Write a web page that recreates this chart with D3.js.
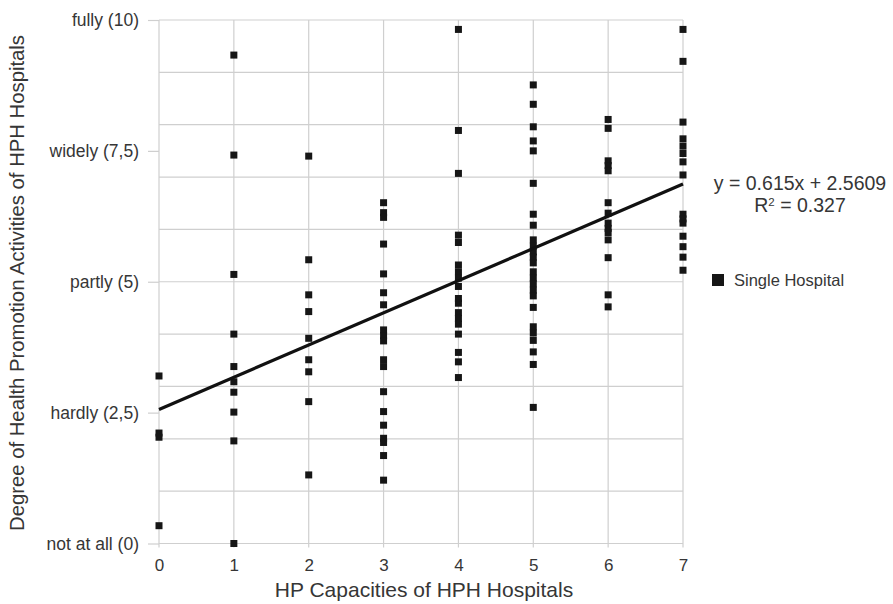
<!DOCTYPE html>
<html>
<head>
<meta charset="utf-8">
<script src="https://cdn.jsdelivr.net/npm/d3@7"></script>
<style>
  body { margin: 0; background: #fff; }
  .chart text { font-family: "Liberation Sans", Arial, sans-serif; fill: #363636; }
</style>
</head>
<body>
<div class="chart"></div>
<script>
// HP capacity (x) and degree of HP activities (y) per hospital, grouped by capacity
const capacities = [0, 1, 2, 3, 4, 5, 6, 7];
const cap0 = [3.2, 2.11, 2.03, 0.34];
const cap1 = [9.33, 7.42, 5.14, 4.0, 3.38, 3.09, 2.89, 2.51, 1.96, 0.0];
const cap2 = [7.40, 5.42, 4.75, 4.43, 3.92, 3.51, 3.28, 2.71, 1.31];
const cap3 = [6.51, 6.32, 6.23, 5.72, 5.15, 4.79, 4.56, 4.08, 3.97, 3.87, 3.51, 3.38, 2.90, 2.52, 2.26, 2.01, 1.93, 1.68, 1.21];
const cap4 = [9.82, 7.89, 7.07, 5.89, 5.75, 5.32, 5.19, 5.07, 4.91, 4.68, 4.59, 4.41, 4.30, 4.19, 4.0, 3.65, 3.47, 3.17];
const cap5 = [8.76, 8.39, 7.96, 7.69, 7.50, 6.88, 6.29, 6.08, 5.80, 5.68, 5.57, 5.47, 5.36, 5.19, 5.07, 4.96, 4.84, 4.73, 4.51, 4.14, 4.02, 3.88, 3.66, 3.42, 2.60];
const cap6 = [8.10, 7.93, 7.31, 7.22, 7.12, 6.51, 6.31, 6.12, 6.02, 5.94, 5.80, 5.46, 4.75, 4.52];
const cap7 = [9.82, 9.21, 8.05, 7.73, 7.59, 7.45, 7.29, 7.04, 6.29, 6.20, 6.12, 5.87, 5.67, 5.47, 5.22];

const yTickValues = [0, 2.5, 5, 7.5, 10];
const yTickLabels = ['not at all (0)', 'hardly (2,5)', 'partly (5)', 'widely (7,5)', 'fully (10)'];
const gridValues = [0, 1, 2, 3, 4, 5, 6, 7, 8, 9, 10];

const slope = 0.615, intercept = 2.5609, r2 = 0.327;

const groups = [cap0, cap1, cap2, cap3, cap4, cap5, cap6, cap7];
const points = [];
groups.forEach((vals, i) => vals.forEach(v => points.push({x: capacities[i], y: v})));

const W = 893, H = 604;
const margin = {top: 20, left: 159, right: 210, bottom: 60.5};
const width = W - margin.left - margin.right;   // 524
const height = H - margin.top - margin.bottom;  // 523.5

const svg = d3.select('.chart')
    .append('svg')
    .attr('width', W)
    .attr('height', H);

const g = svg.append('g')
    .attr('transform', 'translate(' + margin.left + ',' + margin.top + ')');

const xScale = d3.scaleLinear().domain([0, 7]).range([0, width]);
const yScale = d3.scaleLinear().domain([0, 10]).range([height, 0]);

// horizontal grid
g.selectAll('.hgrid')
    .data(gridValues)
    .enter()
    .append('line')
    .attr('x1', 0).attr('x2', width)
    .attr('y1', d => yScale(d)).attr('y2', d => yScale(d))
    .attr('stroke', '#cfcfcf')
    .attr('stroke-width', 1.2);

// vertical grid (with small tick below)
g.selectAll('.vgrid')
    .data(capacities)
    .enter()
    .append('line')
    .attr('x1', d => xScale(d)).attr('x2', d => xScale(d))
    .attr('y1', 0).attr('y2', height + 4)
    .attr('stroke', '#cfcfcf')
    .attr('stroke-width', 1.2);

// y axis ticks + labels
const yAxis = d3.axisLeft(yScale)
    .tickValues(yTickValues)
    .tickFormat((d, i) => yTickLabels[i])
    .tickSize(11)
    .tickPadding(9);
const ya = g.append('g').call(yAxis);
ya.select('.domain').remove();
ya.selectAll('line').attr('stroke', '#cfcfcf').attr('stroke-width', 1.2);
ya.selectAll('text').style('font-size', '17.5px');

// x axis labels
const xAxis = d3.axisBottom(xScale)
    .tickValues(capacities)
    .tickFormat(d3.format('d'))
    .tickSize(0)
    .tickPadding(15);
const xa = g.append('g').attr('transform', 'translate(0,' + height + ')').call(xAxis);
xa.select('.domain').remove();
xa.selectAll('text').style('font-size', '17px');

// points
const sq = 7;
g.selectAll('.pt')
    .data(points)
    .enter()
    .append('rect')
    .attr('x', d => xScale(d.x) - sq / 2)
    .attr('y', d => yScale(d.y) - sq / 2)
    .attr('width', sq)
    .attr('height', sq)
    .attr('fill', '#161616');

// regression line
g.append('line')
    .attr('x1', xScale(0)).attr('y1', yScale(intercept))
    .attr('x2', xScale(7)).attr('y2', yScale(slope * 7 + intercept))
    .attr('stroke', '#111')
    .attr('stroke-width', 3.2);

// axis titles
svg.append('text')
    .attr('x', 424)
    .attr('y', 597)
    .attr('text-anchor', 'middle')
    .style('font-size', '21px')
    .text('HP Capacities of HPH Hospitals');

svg.append('text')
    .attr('transform', 'translate(24,283) rotate(-90)')
    .attr('text-anchor', 'middle')
    .style('font-size', '20.3px')
    .text('Degree of Health Promotion Activities of HPH Hospitals');

// trendline equation
svg.append('text')
    .attr('x', 800)
    .attr('y', 190)
    .attr('text-anchor', 'middle')
    .style('font-size', '19.5px')
    .text('y = ' + slope + 'x + ' + intercept);

const r2t = svg.append('text')
    .attr('x', 800)
    .attr('y', 212)
    .attr('text-anchor', 'middle')
    .style('font-size', '19.5px');
r2t.append('tspan').text('R');
r2t.append('tspan').attr('dy', -6).style('font-size', '11.5px').text('2');
r2t.append('tspan').attr('dy', 6).text(' = ' + r2);

// legend
svg.append('rect')
    .attr('x', 712).attr('y', 274)
    .attr('width', 12).attr('height', 12)
    .attr('fill', '#161616');
svg.append('text')
    .attr('x', 734)
    .attr('y', 286)
    .style('font-size', '16.5px')
    .text('Single Hospital');
</script>
</body>
</html>
